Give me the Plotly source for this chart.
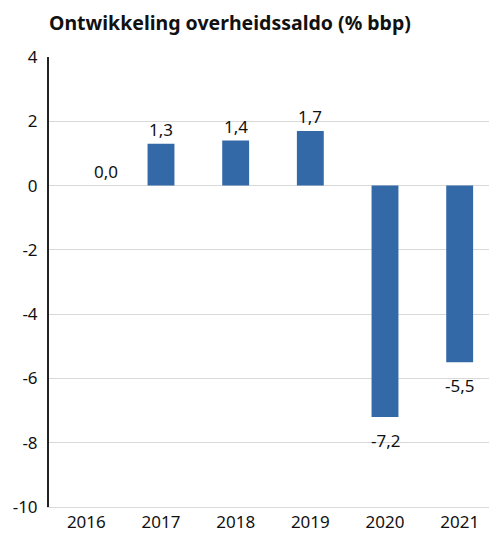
import plotly.graph_objects as go

years = ["2016", "2017", "2018", "2019", "2020", "2021"]
saldo = [0.0, 1.3, 1.4, 1.7, -7.2, -5.5]
y_ticks = [-10, -8, -6, -4, -2, 0, 2, 4]
y_ticklabels = ["-10", "-8", "-6", "-4", "-2", "0", "2", "4"]

labels = [f"{v:.1f}".replace(".", ",") for v in saldo]

font_family = "Noto Sans"
text_color = "#111111"

fig = go.Figure(
    go.Bar(
        x=years,
        y=saldo,
        marker=dict(color="#3469a8", line=dict(width=0)),
        cliponaxis=False,
    )
)

annotations = [
    dict(
        text="<b>Ontwikkeling overheidssaldo (% bbp)</b>",
        xref="paper", yref="paper",
        x=-0.005, y=1.0, yshift=35,
        xanchor="left", yanchor="middle",
        showarrow=False,
        font=dict(family=font_family, size=19.5, color=text_color),
    )
]
# on a category axis, annotation x is the category index
for i, (v, lab) in enumerate(zip(saldo, labels)):
    annotations.append(
        dict(
            x=i, y=v, xref="x", yref="y",
            text=lab,
            showarrow=False,
            xanchor="center", yanchor="middle",
            yshift=14 if v >= 0 else -23,
            xshift=20 if v == 0 else 0,
            font=dict(family=font_family, size=17, color=text_color),
        )
    )

# page body has an 8px margin, so the figure is sized to fit the 497x533 window
fig.update_layout(
    width=489,
    height=525,
    margin=dict(l=41, r=0, t=49, b=23),
    plot_bgcolor="white",
    paper_bgcolor="white",
    bargap=0.64,
    showlegend=False,
    font=dict(family=font_family, size=17, color=text_color),
    annotations=annotations,
)

fig.update_yaxes(
    range=[-10, 4],
    tickvals=y_ticks,
    ticktext=y_ticklabels,
    showgrid=True,
    gridcolor="#d9d9d9",
    gridwidth=1,
    zeroline=False,
    showline=True,
    linecolor="#222222",
    linewidth=2,
    ticks="",
    ticklabelstandoff=6,
    tickfont=dict(family=font_family, size=17, color=text_color),
)
fig.update_xaxes(
    type="category",
    categoryorder="array",
    categoryarray=years,
    range=[-0.5, len(years) - 0.5],
    showline=True,
    linecolor="#d9d9d9",
    linewidth=1,
    showgrid=False,
    ticks="",
    tickfont=dict(family=font_family, size=17, color=text_color),
)

fig.write_html("out.html")
